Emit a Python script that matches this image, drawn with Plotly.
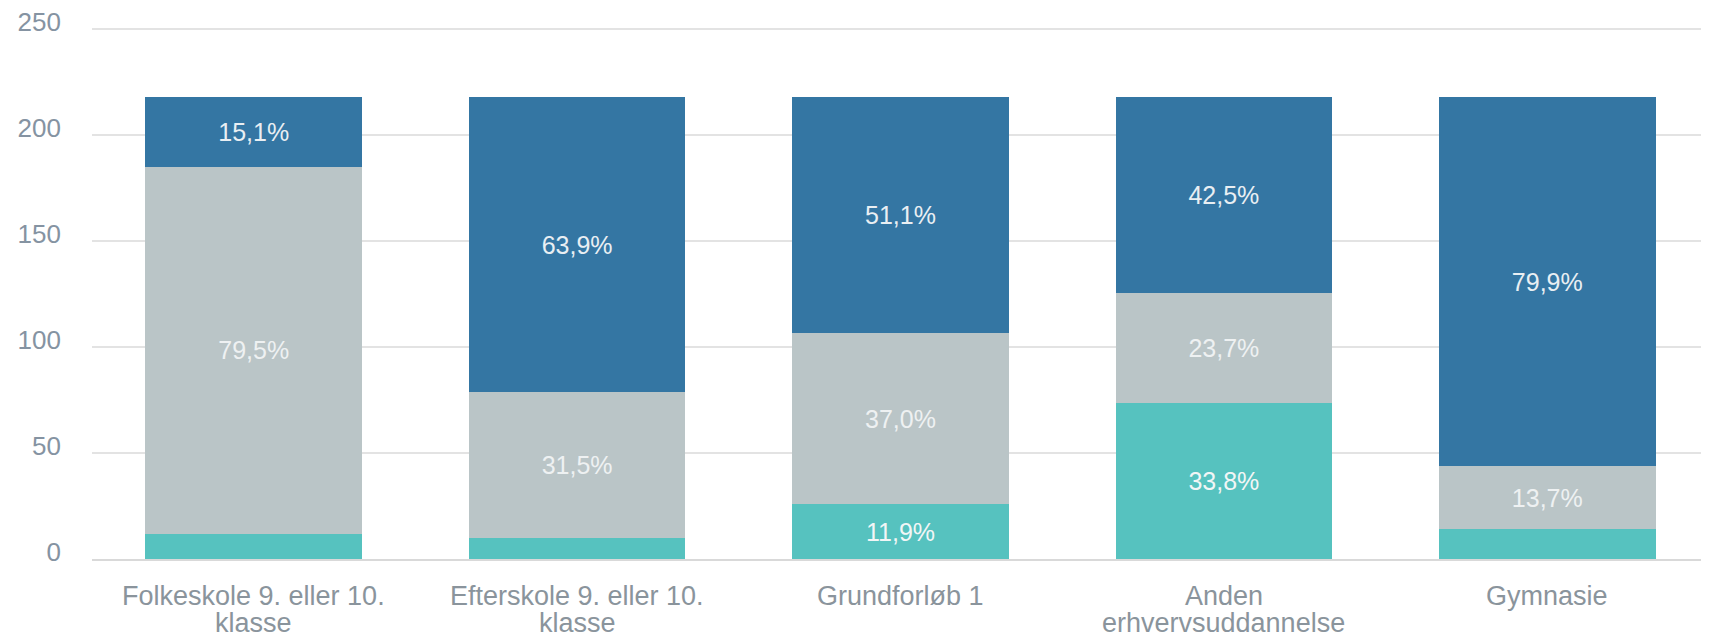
import plotly.graph_objects as go

categories = [
    "Folkeskole 9. eller 10.<br>klasse",
    "Efterskole 9. eller 10.<br>klasse",
    "Grundforløb 1",
    "Anden<br>erhvervsuddannelse",
    "Gymnasie",
]

# values (stacked counts, each bar ~218)
teal_vals = [11.8, 10.0, 25.9, 73.7, 14.0]
gray_vals = [173.3, 68.7, 80.7, 51.7, 29.9]
blue_vals = [32.9, 139.3, 111.4, 92.6, 174.1]

teal_text = ["", "", "11,9%", "33,8%", ""]
gray_text = ["79,5%", "31,5%", "37,0%", "23,7%", "13,7%"]
blue_text = ["15,1%", "63,9%", "51,1%", "42,5%", "79,9%"]

y_ticks = [0, 50, 100, 150, 200, 250]

FONT = "Arial, Liberation Sans, sans-serif"

fig = go.Figure()
for vals, txt, col, tcol in [
    (teal_vals, teal_text, "#56C2BF", "#F2F6F6"),
    (gray_vals, gray_text, "#BAC5C7", "#EEF1F2"),
    (blue_vals, blue_text, "#3476A3", "#E9EFF3"),
]:
    fig.add_trace(go.Bar(
        x=categories, y=vals, text=txt,
        marker=dict(color=col, line=dict(width=0)),
        textposition="inside", insidetextanchor="middle",
        textangle=0,
        insidetextfont=dict(family=FONT, size=25, color=tcol),
        hoverinfo="skip",
    ))

# category labels: tighter line spacing than plotly's tick labels allow
for cat in categories:
    for i, line in enumerate(cat.split("<br>")):
        fig.add_annotation(
            x=cat, xref="x", y=0, yref="paper",
            text=line, showarrow=False,
            yanchor="middle", xanchor="center",
            yshift=-37 - 27 * i,
            font=dict(family=FONT, size=27, color="#8A949C"),
        )

fig.update_layout(
    barmode="stack",
    bargap=0.33,
    width=1709, height=636,
    margin=dict(l=84, r=8, t=20, b=85, autoexpand=False),
    paper_bgcolor="white", plot_bgcolor="white",
    showlegend=False,
    uniformtext=dict(mode="show", minsize=10),
    xaxis=dict(
        showticklabels=False,
        showgrid=False, showline=True, linecolor="#D9D9D9", linewidth=2,
        ticks="", automargin=False,
    ),
    yaxis=dict(
        range=[0, 250.6], tickvals=y_ticks,
        tickfont=dict(family=FONT, size=26, color="#8593A2"),
        showgrid=True, gridcolor="#E3E3E3", gridwidth=2,
        zeroline=False, showline=False, ticks="",
        ticklabelstandoff=30, ticklabelshift=-7, automargin=False,
        ticklabeloverflow="allow",
    ),
)

fig.write_html("out.html")
